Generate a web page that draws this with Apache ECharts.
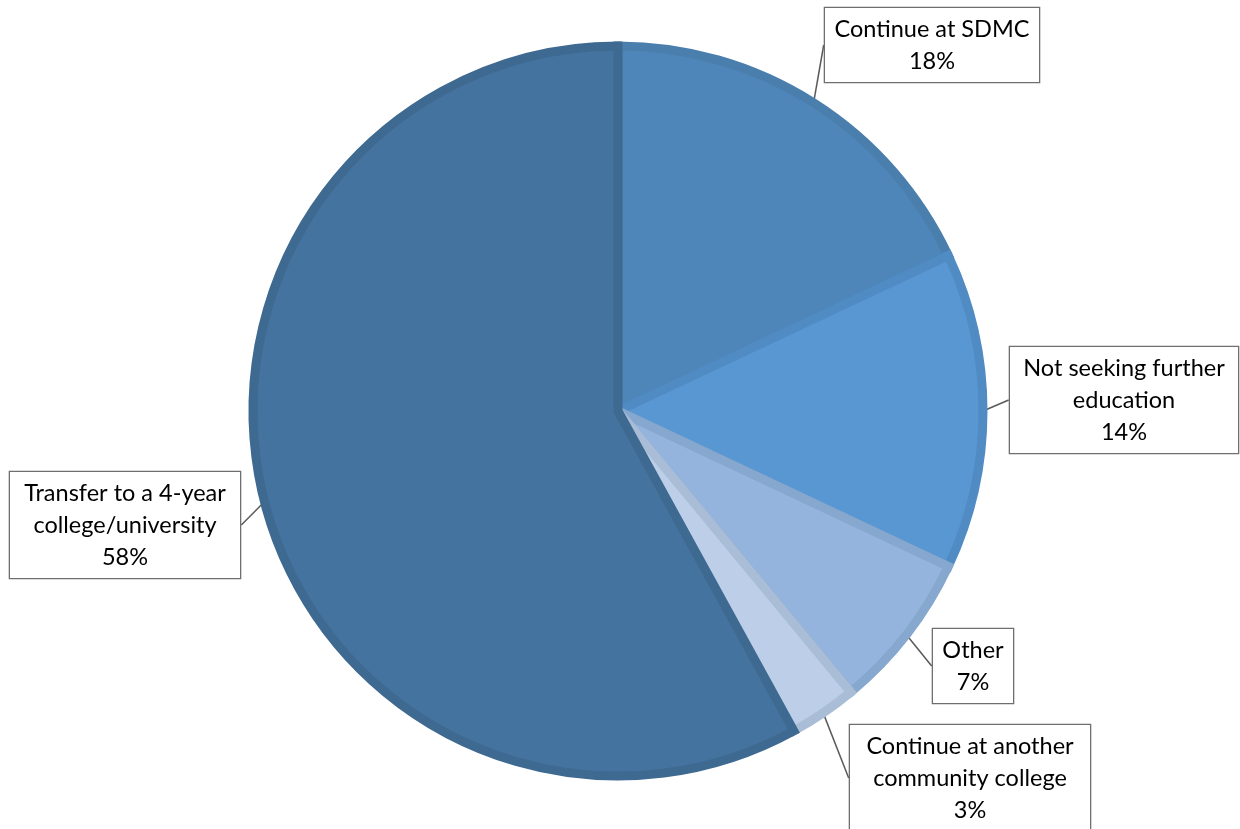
<!DOCTYPE html>
<html>
<head>
<meta charset="utf-8">
<title>Student plans</title>
<script src="https://cdn.jsdelivr.net/npm/echarts@6/dist/echarts.min.js"></script>
<style>
  html, body { margin: 0; padding: 0; background: #ffffff; }
  #chart { width: 1240px; height: 829px; }
</style>
</head>
<body>
<div id="chart"></div>
<script>
// Plans after the current term, shares in percent (clockwise from 12 o'clock)
const categories = [
  'Continue at SDMC',
  'Not seeking further education',
  'Other',
  'Continue at another community college',
  'Transfer to a 4-year college/university'
];
const shares = [18, 14, 7, 3, 58];
// Label text lines as printed in each callout
const labelLines = [
  ['Continue at SDMC'],
  ['Not seeking further', 'education'],
  ['Other'],
  ['Continue at another', 'community college'],
  ['Transfer to a 4-year', 'college/university']
];

// Slice fill and rim colours
const fills   = ['#4e86ba', '#5997d3', '#95b4dd', '#bccee8', '#44739f'];
const borders = ['#4a7ead', '#508bc4', '#86a8cf', '#a9bdd6', '#3e6990'];
// Callout box widths and centres
const boxWidths  = [200, 214, 66, 226, 216];
const boxCentres = [[932, 45], [1124, 400], [973, 666], [970, 778], [125, 525]];

const chart = echarts.init(document.getElementById('chart'), null, { renderer: 'canvas' });

const data = categories.map((name, i) => ({
  name,
  value: shares[i],
  itemStyle: { color: fills[i], borderColor: borders[i] },
  label: { width: boxWidths[i] }
}));

chart.setOption({
  animation: false,
  series: [{
    type: 'pie',
    center: [618, 411],
    radius: [0, 365],
    startAngle: 90,
    clockwise: true,
    avoidLabelOverlap: false,
    itemStyle: { borderWidth: 9, borderJoin: 'miter' },
    label: {
      show: true,
      position: 'outside',
      formatter: p => labelLines[p.dataIndex].join('\n') + '\n' + p.value + '%',
      fontFamily: 'Lato, "Open Sans", sans-serif',
      fontSize: 23.5,
      lineHeight: 32,
      color: '#000000',
      align: 'center',
      backgroundColor: '#ffffff',
      borderColor: '#6f6f6f',
      borderWidth: 1.3,
      padding: [5, 7, 5, 7]
    },
    labelLine: {
      show: true,
      length: 0,
      length2: 0,
      lineStyle: { color: '#595959', width: 1.5 }
    },
    labelLayout: p => ({
      x: boxCentres[p.dataIndex][0],
      y: boxCentres[p.dataIndex][1],
      align: 'center',
      verticalAlign: 'middle',
      moveOverlap: false
    }),
    data
  }]
});
</script>
</body>
</html>
